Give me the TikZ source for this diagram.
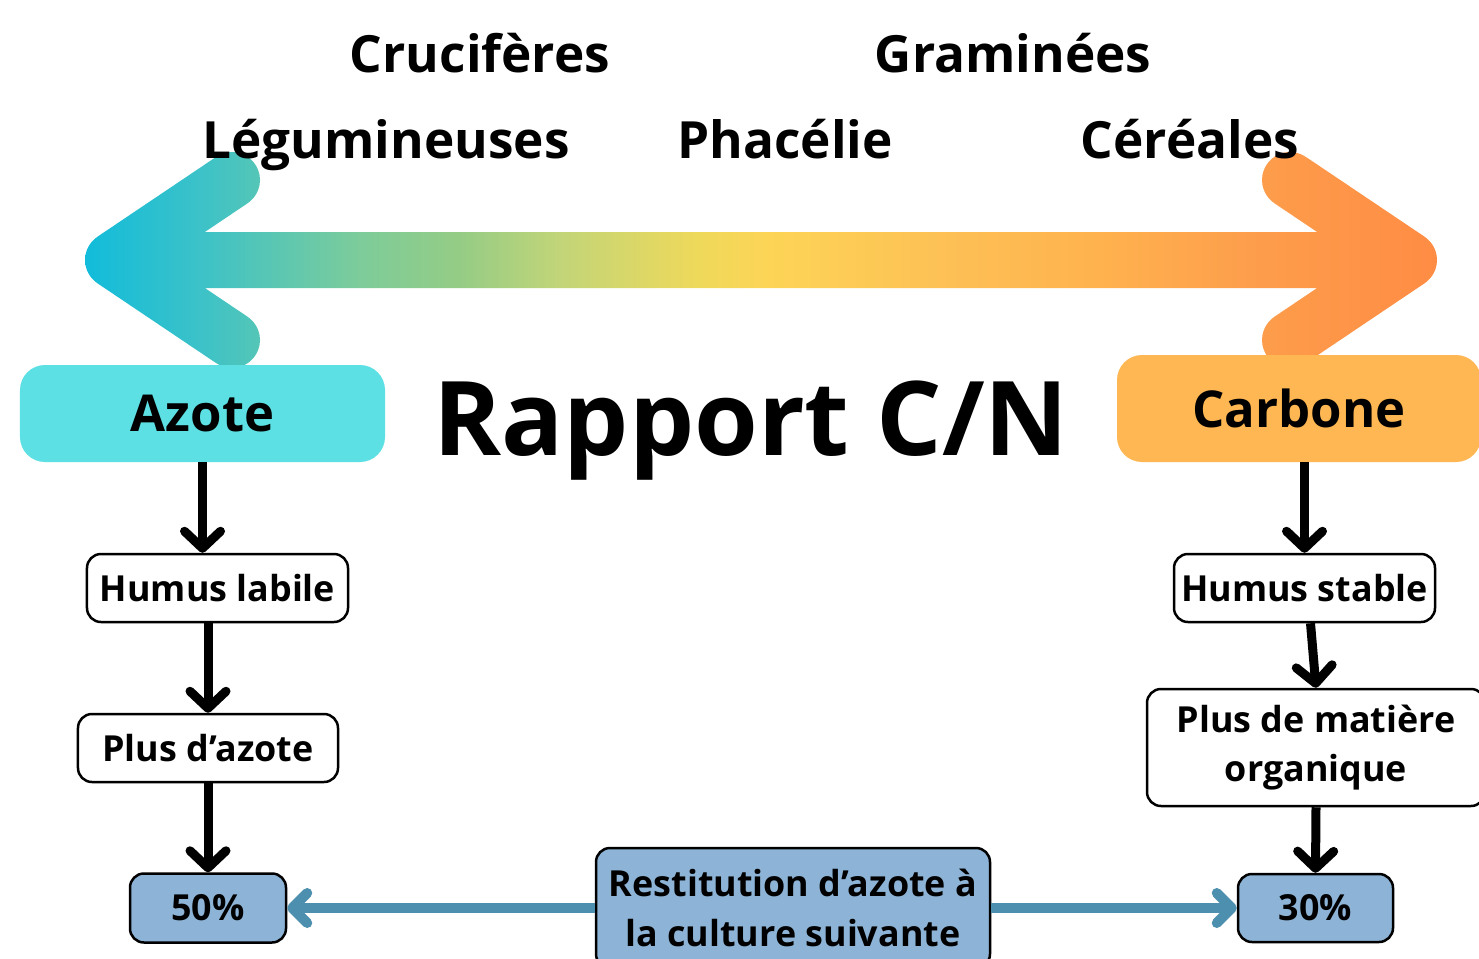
\documentclass[tikz,border=0pt]{standalone}
\usepackage{fontspec}
\setmainfont{Open Sans}
\usetikzlibrary{arrows.meta}

\definecolor{cAzote}{HTML}{5CE0E3}
\definecolor{cCarb}{HTML}{FEB752}
\definecolor{cBlueBox}{HTML}{8DB4D6}
\definecolor{cBlueArr}{HTML}{4D8FAF}
\definecolor{gA}{HTML}{12BCDA}
\definecolor{gB}{HTML}{3CC2C8}
\definecolor{gC}{HTML}{7DCC9A}
\definecolor{gD}{HTML}{95CC85}
\definecolor{gE}{HTML}{C2D578}
\definecolor{gF}{HTML}{EFD95A}
\definecolor{gG}{HTML}{FDD456}
\definecolor{gH}{HTML}{FDC055}
\definecolor{gI}{HTML}{FFB24E}
\definecolor{gJ}{HTML}{FD9E4C}
\definecolor{gK}{HTML}{FF8C44}

\pgfdeclarehorizontalshading{cnshade}{100bp}{color(0bp)=(gA); color(25.89bp)=(gA); color(30bp)=(gB); color(35.71bp)=(gC); color(39.29bp)=(gD); color(42.86bp)=(gE); color(47.86bp)=(gF); color(50.36bp)=(gG); color(56.79bp)=(gH); color(62.14bp)=(gI); color(67.5bp)=(gJ); color(74.18bp)=(gK); color(100bp)=(gK)}

\tikzset{
  hdr/.style={font=\fontsize{51.5}{60}\selectfont\bfseries, anchor=base, inner sep=0pt},
  wbox/.style={draw=black, line width=2.5bp, rounded corners=14bp, fill=white,
    font=\fontsize{36}{50}\selectfont\bfseries, inner sep=0pt, align=center},
  bbox/.style={wbox, fill=cBlueBox},
  bigbox/.style={rounded corners=25bp, inner sep=0pt, font=\fontsize{51}{60}\selectfont\bfseries},
  darr/.style={-{Straight Barb[round, length=17bp, width=36bp]}, line width=9bp, black},
  barr/.style={-{Straight Barb[round, length=15bp, width=30bp]}, line width=10bp, cBlueArr},
}

\begin{document}
\begin{tikzpicture}[x=1bp, y=-1bp]
\useasboundingbox (0,0) rectangle (1479,958);
\fill[white] (0,0) rectangle (1479,958);

% gradient double arrow
\begin{scope}
\clip (113,232) -- (1409,232) -- (1409,288) -- (113,288) -- cycle
  (97.38,236.76) -- (216.38,156.76) -- (247.62,203.24) -- (128.62,283.24) -- cycle
  (128.62,236.76) -- (247.62,316.76) -- (216.38,363.24) -- (97.38,283.24) -- cycle
  (1393.38,283.24) -- (1274.38,203.24) -- (1305.62,156.76) -- (1424.62,236.76) -- cycle
  (1424.62,283.24) -- (1305.62,363.24) -- (1274.38,316.76) -- (1393.38,236.76) -- cycle
  (141,260) foreach \k in {1,...,35} { -- ({113+28*cos(\k*10)},{260+28*sin(\k*10)}) } -- cycle
  (260,180) foreach \k in {1,...,35} { -- ({232+28*cos(\k*10)},{180+28*sin(\k*10)}) } -- cycle
  (260,340) foreach \k in {1,...,35} { -- ({232+28*cos(\k*10)},{340+28*sin(\k*10)}) } -- cycle
  (1437,260) foreach \k in {1,...,35} { -- ({1409+28*cos(\k*10)},{260+28*sin(\k*10)}) } -- cycle
  (1318,180) foreach \k in {1,...,35} { -- ({1290+28*cos(\k*10)},{180+28*sin(\k*10)}) } -- cycle
  (1318,340) foreach \k in {1,...,35} { -- ({1290+28*cos(\k*10)},{340+28*sin(\k*10)}) } -- cycle;
\shade[shading=cnshade] (60,140) -- (1460,140) -- (1460,380) -- (60,380) -- cycle;
\end{scope}

% header labels
\node[hdr] (cruc) at (480,72) {Crucifères};
\node[hdr] (gram) at (1013,72) {Graminées};
\node[hdr] (legu) at (386,158) {Légumineuses};
\node[hdr] (phac) at (785,158) {Phacélie};
\node[hdr] (cere) at (1190,158) {Céréales};

% main boxes
\node[bigbox, fill=cAzote, minimum width=365bp, minimum height=97bp] (azote) at (202.5,413.5) {Azote};
\node[bigbox, fill=cCarb, minimum width=364bp, minimum height=107bp] (carb) at (1299,408.5) {Carbone};
\node[font=\fontsize{103.5}{120}\selectfont\bfseries, anchor=base, inner sep=0pt] (title) at (751,455) {Rapport C/N};

% left chain
\node[wbox, minimum width=261bp, minimum height=68bp] (hl) at (217.5,588) {Humus labile};
\node[wbox, minimum width=260bp, minimum height=68bp] (pa) at (208,748) {Plus d’azote};
\node[bbox, minimum width=156bp, minimum height=69bp] (p50) at (208,908) {50\%};

% right chain
\node[wbox, minimum width=261bp, minimum height=68bp] (hs) at (1304.5,588) {Humus stable};
\node[wbox, minimum width=338bp, minimum height=117bp] (pm) at (1316,747.5) {Plus de matière\\organique};
\node[bbox, minimum width=155bp, minimum height=68bp] (p30) at (1315.5,908) {30\%};

% bottom box
\node[bbox, minimum width=394bp, minimum height=120bp] (rest) at (793,908) {Restitution d’azote à\\la culture suivante};

% connectors
\draw[darr] (azote.south) -- (azote.south |- hl.north);
\draw[darr] (pa.north |- hl.south) -- (pa.north);
\draw[darr] (pa.south) -- (p50.north);
\draw[darr] ([xshift=6bp]hs.south) -- (pm.north);
\draw[darr] (hs.north |- carb.south) -- (hs.north);
\draw[darr] (pm.south) -- (p30.north);
\draw[barr] (rest) -- (p50);
\draw[barr] (rest) -- (p30);
\end{tikzpicture}
\end{document}
